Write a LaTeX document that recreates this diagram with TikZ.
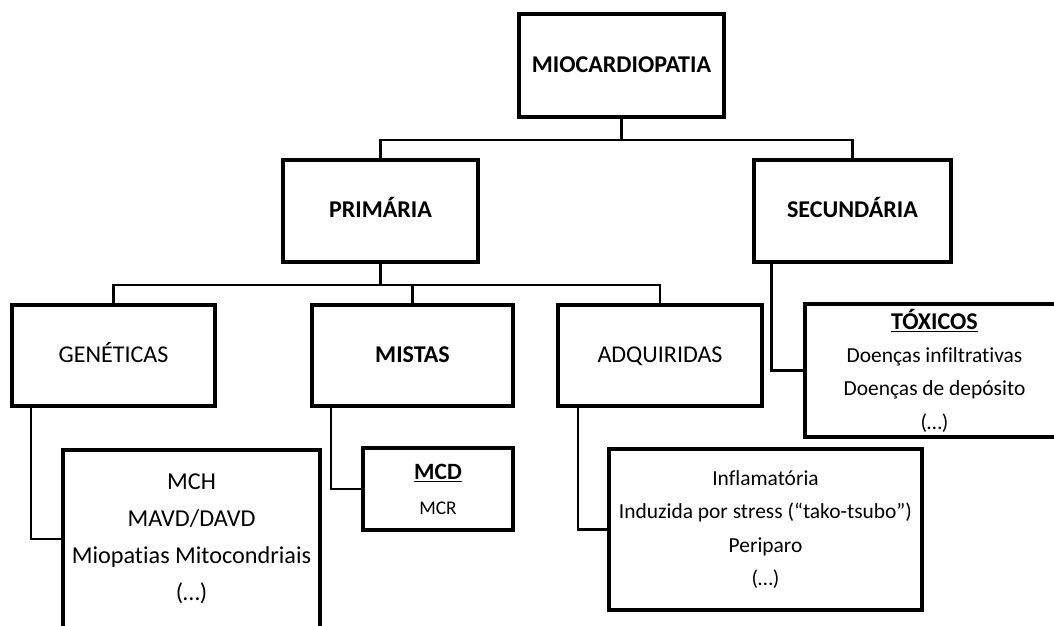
\documentclass[tikz,border=0pt]{standalone}
\usepackage{fontspec}
\setmainfont{Carlito}[Ligatures=NoCommon]
\usetikzlibrary{shadows}

\tikzset{
  caixa/.style={draw, line width=2pt, fill=white, align=center, inner sep=2pt,
    drop shadow={shadow xshift=0.05cm, shadow yshift=-0.05cm, opacity=0.3}},
  rotulo/.style={font=\fontsize{13.7}{16}\selectfont, text height=10pt, text depth=2.5pt},
  negrito/.style={rotulo, font=\fontsize{13.7}{16}\selectfont\bfseries},
  liga/.style={line width=1.4pt},
}

\begin{document}
\begin{tikzpicture}[x=0.02cm, y=-0.02cm]

	\useasboundingbox (0,0) rectangle (1054,625);
	\clip (0,0) rectangle (1054,625);

	% Topo
	\node[caixa, negrito, minimum width=4.1cm, minimum height=2.06cm] (mio) at (621.5,65.5) {MIOCARDIOPATIA};

	% Nivel 1
	\node[caixa, negrito, minimum width=3.9cm, minimum height=2.04cm] (prim) at (380.5,211) {PRIMÁRIA};
	\node[caixa, negrito, minimum width=3.94cm, minimum height=2.04cm] (sec) at (852.5,211) {SECUNDÁRIA};

	% Nivel 2
	\node[caixa, rotulo, minimum width=4.06cm, minimum height=2.02cm] (gen) at (113.5,355.5) {GENÉTICAS};
	\node[caixa, negrito, minimum width=4.02cm, minimum height=2.02cm] (mis) at (412.5,355.5) {MISTAS};
	\node[caixa, rotulo, minimum width=4.08cm, minimum height=2.02cm] (adq) at (660,355.5) {ADQUIRIDAS};
	\node[caixa, font=\fontsize{12.2}{19}\selectfont, minimum width=5.18cm, minimum height=2.66cm] (tox) at (934.5,370.5)
		{{\fontsize{13.7}{16}\selectfont\bfseries\underline{TÓXICOS}}\\Doenças infiltrativas\\Doenças de depósito\\(…)};

	% Listas
	\node[caixa, font=\fontsize{13.8}{21}\selectfont, minimum width=5.14cm, minimum height=3.56cm] (genl) at (191.5,539)
		{MCH\\MAVD/DAVD\\Miopatias Mitocondriais\\(…)};
	\node[caixa, font=\fontsize{11}{20}\selectfont, minimum width=3.0cm, minimum height=1.64cm] (misl) at (438,489)
		{{\fontsize{13.3}{16}\selectfont\bfseries\underline{MCD}}\\MCR};
	\node[caixa, font=\fontsize{12.2}{19}\selectfont, minimum width=6.26cm, minimum height=3.22cm] (adql) at (765.5,529.5)
		{Inflamatória\\Induzida por stress (“tako-tsubo”)\\Periparo\\(…)};

	% Ligacoes
	\draw[liga] (mio.south) -- ++(0,21) -| (prim.north);
	\draw[liga] (mio.south) -- ++(0,21) -| (sec.north);
	\draw[liga] (prim.south) -- ++(0,21) -| (gen.north);
	\draw[liga] (prim.south) -- ++(0,21) -| (mis.north);
	\draw[liga] (prim.south) -- ++(0,21) -| (adq.north);
	\draw[liga] ([xshift=0.42cm]gen.south west) |- (genl.west);
	\draw[liga] ([xshift=0.42cm]mis.south west) |- (misl.west);
	\draw[liga] ([xshift=0.44cm]adq.south west) |- (adql.west);
	\draw[liga] ([xshift=0.38cm]sec.south west) |- (tox.west);

\end{tikzpicture}
\end{document}
